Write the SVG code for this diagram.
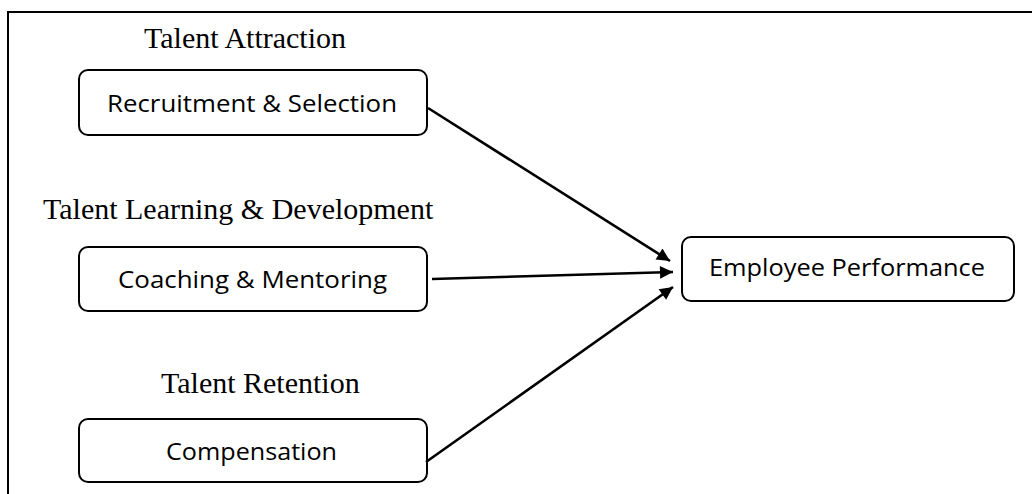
<svg xmlns="http://www.w3.org/2000/svg" width="1032" height="494" viewBox="0 0 1032 494">
  <style>
    .box { fill: #fff; stroke: #000; stroke-width: 2; }
    .lbl { font-family: "Open Sans", "Liberation Sans", sans-serif; font-size: 23.5px; fill: #000; }
    .cat { font-family: "Liberation Serif", serif; font-size: 30px; fill: #000; }
    .edge { stroke: #000; stroke-width: 2.6; fill: none; marker-end: url(#head); }
  </style>
  <defs>
    <marker id="head" viewBox="0 0 10 10" refX="10" refY="5" markerWidth="6.2" markerHeight="5" orient="auto" markerUnits="strokeWidth">
      <path d="M0,0 L10,5 L0,10 z" fill="#000"/>
    </marker>
  </defs>
  <rect width="1032" height="494" fill="#fff"/>
  <!-- frame (open at right and bottom) -->
  <path d="M8,494 V12 H1032" fill="none" stroke="#000" stroke-width="2"/>

  <!-- category headings -->
  <text class="cat" x="144" y="48">Talent Attraction</text>
  <text class="cat" x="43" y="219">Talent Learning &amp; Development</text>
  <text class="cat" x="161" y="393">Talent Retention</text>

  <g id="recruitment">
    <rect class="box" x="79" y="70" width="348" height="65" rx="9"/>
    <text class="lbl" x="107" y="112" textLength="290" lengthAdjust="spacingAndGlyphs">Recruitment &amp; Selection</text>
  </g>
  <g id="coaching">
    <rect class="box" x="79" y="247" width="348" height="64" rx="9"/>
    <text class="lbl" x="118" y="288" textLength="269" lengthAdjust="spacingAndGlyphs">Coaching &amp; Mentoring</text>
  </g>
  <g id="compensation">
    <rect class="box" x="79" y="419" width="348" height="63" rx="9"/>
    <text class="lbl" x="166" y="460" textLength="171" lengthAdjust="spacingAndGlyphs">Compensation</text>
  </g>
  <g id="performance">
    <rect class="box" x="682" y="237" width="332" height="64" rx="9"/>
    <text class="lbl" x="709" y="276" textLength="276" lengthAdjust="spacingAndGlyphs">Employee Performance</text>
  </g>

  <g id="connectors">
    <line class="edge" x1="428" y1="108" x2="670" y2="261"/>
    <line class="edge" x1="432" y1="279" x2="673" y2="272"/>
    <line class="edge" x1="426" y1="462" x2="673" y2="287"/>
  </g>
</svg>
